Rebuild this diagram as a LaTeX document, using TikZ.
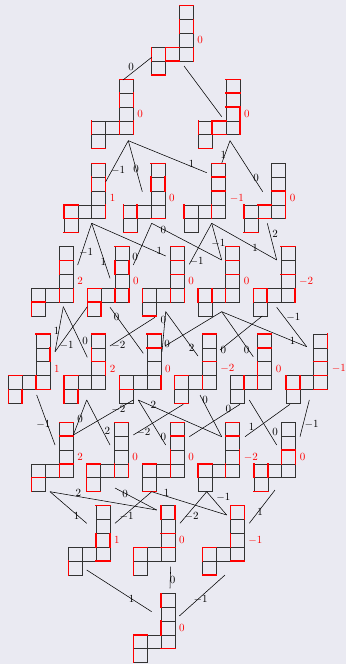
\documentclass[tikz,border=0pt]{standalone}
\usepackage{tikz}
\usetikzlibrary{calc,positioning}
\definecolor{bgcol}{RGB}{234,234,242}
\newcommand{\wtfont}{\fontsize{10.5}{12}\selectfont}

% one tableau: name, north west corner, weight, red horizontals, red verticals
\newcommand{\youngtab}[5]{%
  \node[tabbox] (#1) at (#2) {};
  \node[wt, right=3.5pt of #1] (#1w) {$#3$};
  \begin{scope}[shift={(#1.north west)}, x=13.85pt, y=-13.85pt]
    \foreach \cx/\cy in {2/0,2/1,2/2,0/3,1/3,2/3,0/4}
      \draw[cellline] (\cx,\cy) rectangle ++(1,1);
    \foreach \cx/\cy in {#4}
      \draw[redline] (\cx,\cy) -- ++(1,0);
    \foreach \cx/\cy in {#5}
      \draw[redline] (\cx,\cy) -- ++(0,1);
  \end{scope}
}

% one arrow of the graph: from, port offset, to, port offset, label, label spot
\newcommand{\link}[6]{%
  \draw[edge] ($(#1.north west)+(#2)$) -- ($(#3.north west)+(#4)$);
  \node[lbl] (#1-#3) at (#6) {#5};
}

\begin{document}
\begin{tikzpicture}[x=1pt, y=-1pt,
  tabbox/.style={anchor=north west, minimum width=41.55pt, minimum height=69.25pt, inner sep=0pt, outer sep=0pt},
  cellline/.style={line width=0.7pt, black!80},
  redline/.style={line width=1.4pt, red, line cap=rect},
  wt/.style={text=red, inner sep=0.5pt, font=\wtfont},
  lbl/.style={inner sep=0.5pt, font=\wtfont},
  edge/.style={line width=0.55pt}]
\fill[bgcol] (0,0) rectangle (346,664);
\useasboundingbox (0,0) rectangle (346,664);

% tableaux, row by row
\youngtab{a}{151.7,5.7}{0}{2/0,1/3,1/4,0/5}{2/1,3/1,0/3,1/3,3/3}

\youngtab{b1}{91.7,79.3}{0}{2/0,0/5}{2/1,3/1,0/3,2/3,3/3}
\youngtab{b2}{198.3,79.3}{0}{2/0,2/1,2/2,1/3,1/4,0/5}{3/2,0/3,1/3,3/3}

\youngtab{c1}{64,163.3}{1}{2/0,0/3,0/4,0/5}{2/1,3/1,0/3,3/3}
\youngtab{c2}{123.3,163.3}{0}{2/0,2/4,0/5}{2/1,3/1,0/3,1/3}
\youngtab{c3}{184,163.3}{-1}{2/0,2/1,2/2}{0/3,2/3}
\youngtab{c4}{244,163.3}{0}{2/2,1/3,1/4,0/5}{3/2,0/3,3/3}

\youngtab{d1}{31.7,246.7}{2}{2/1,0/4}{2/1,2/3,3/3,0/4}
\youngtab{d2}{87.3,246.7}{0}{2/0,0/3,0/4}{2/1,3/1,0/3,2/3,3/3,0/4,1/4}
\youngtab{d3}{142.7,246.7}{0}{2/0,2/1,2/2,0/5}{0/3,2/3,3/3}
\youngtab{d4}{198,246.7}{0}{2/0,2/1,2/2}{0/3,1/3,2/3}
\youngtab{d5}{253.3,246.7}{-2}{2/0,2/2,0/3}{0/3,1/3,3/3}

\youngtab{e1}{8.3,334}{1}{2/0,0/3,2/4}{3/1,2/3,0/4,1/4}
\youngtab{e2}{64,334}{2}{2/0,2/2,0/3}{2/1,3/2,0/3,0/4,1/4}
\youngtab{e3}{119.3,334}{0}{2/0,2/1,0/4}{0/3,3/3}
\youngtab{e4}{174.7,334}{-2}{2/0,2/2,0/3,0/5}{0/3,2/3}
\youngtab{e5}{230,334}{0}{2/0,2/1}{2/2,1/3,2/3}
\youngtab{e6}{286,334}{-1}{2/2,2/3,2/4,0/4}{3/0,0/3,1/3}

\youngtab{f1}{31.7,422.3}{2}{2/0,2/1,2/3,0/4}{2/3,0/4}
\youngtab{f2}{86.7,422.3}{0}{2/0,0/3,0/5}{2/3,3/3,0/3,0/4}
\youngtab{f3}{142.7,422.3}{0}{2/0,2/1,0/3,0/5}{2/2,2/3}
\youngtab{f4}{198,422.3}{-2}{2/0,2/1,0/3}{3/2,2/3,0/3}
\youngtab{f5}{254,422.3}{0}{2/2,0/5}{2/2,3/2,0/3,1/3}

\youngtab{g1}{68.3,505.7}{1}{2/0,2/4}{2/2,3/2,0/4}
\youngtab{g2}{133.3,505.7}{0}{2/2,0/3,2/3}{2/0,3/0,0/3,0/4}
\youngtab{g3}{202.7,505.7}{-1}{2/0,0/3,2/4,0/5}{2/0,3/0,2/2,0/3}

\youngtab{h}{133.3,593.3}{0}{2/4,0/3}{2/0,2/2,0/3,0/4}

% arrows
\link{a}{0,51.6}{b1}{31.3,0.7}{$0$}{131,67}
\draw[edge] ($(a.north west)+(32.3,60.3)$) -- ($(b2.north west)+(23.4,37.4)$);

\link{b1}{36.6,61.4}{c1}{41.7,18.4}{$-1$}{118,170}
\link{b1}{36.6,61.4}{c2}{19,28.4}{$0$}{136,169.3}
\link{b1}{36.6,61.4}{c3}{22.7,9.4}{$1$}{191.7,164}
\link{b2}{31.7,61.4}{c3}{37.7,0}{$1$}{223.3,155}
\link{b2}{31.7,61.4}{c4}{18.7,28.4}{$0$}{256,178.3}

\link{c1}{27.7,60}{d1}{46,18.3}{$-1$}{86,252.7}
\link{c1}{27.7,60}{d2}{22.7,31.6}{$1$}{103.3,261.7}
\link{c1}{27.7,60}{d3}{23,9.3}{$1$}{159.3,251}
\link{c2}{28.4,60}{d2}{46,18.3}{$0$}{135,257.3}
\link{c2}{28.4,60}{d4}{23.7,13.3}{$0$}{163.3,230}
\link{c3}{27.7,60}{d3}{46.6,17.6}{$-1$}{196.7,261.7}
\link{c3}{27.7,60}{d4}{23.7,13.3}{$-1$}{218.3,243.3}
\link{c3}{27.7,60}{d5}{23.4,13.3}{$1$}{255,247.7}
\link{c4}{23.3,60}{d5}{23.4,13.3}{$2$}{275,234}

\link{d1}{31.6,60}{e1}{46.7,17.7}{$1$}{56.7,330.5}
\link{d1}{31.6,60}{e2}{23.3,23.3}{$0$}{85,340.7}
\link{d2}{0,60}{e1}{46.7,17.7}{$-1$}{66.7,345}
\link{d2}{22.7,60.6}{e3}{24,19.3}{$0$}{116.7,317.3}
\link{d3}{12.3,70.6}{e2}{46,12}{$-2$}{118.3,345}
\link{d3}{23,65}{e3}{42.7,17.7}{$0$}{163.3,320}
\link{d3}{23,65}{e4}{23.3,22}{$2$}{191.7,348.3}
\link{d4}{23.7,65}{e3}{45.7,12}{$0$}{167,344}
\link{d4}{23.7,65}{e5}{23.3,22.7}{$0$}{246.7,350}
\link{d4}{23.7,65}{e6}{20.7,12.7}{$1$}{292.7,340.7}
\link{d5}{9,69.3}{e4}{45.3,16}{$0$}{223.3,350}
\link{d5}{23.4,60.6}{e6}{20.7,12.7}{$-1$}{293.3,317.3}

\link{e1}{28.4,61}{f1}{23.3,22.7}{$-1$}{43.3,424.3}
\link{e2}{22.7,66}{f1}{41.6,12.7}{$0$}{80,419}
\link{e2}{22.7,66}{f2}{23.3,22.7}{$2$}{107.3,431}
\link{e3}{14,66}{f1}{41.6,12.7}{$-2$}{118.3,409}
\link{e3}{19,66}{f3}{23,22.7}{$0$}{163.3,436.7}
\link{e3}{19,66}{f4}{23.7,14.4}{$2$}{153.3,405}
\link{e4}{8.6,70.3}{f2}{46.6,12.7}{$-2$}{143.3,432.3}
\link{e4}{25.3,61}{f4}{23.7,14.4}{$0$}{205,400}
\link{e5}{10,70.3}{f3}{46.6,14.4}{$0$}{228.3,409}
\link{e5}{19.3,66}{f5}{22.7,22.7}{$0$}{275,431.7}
\link{e6}{4,70.3}{f4}{47,14.4}{$1$}{251.7,426.7}
\link{e6}{23.3,66}{f5}{46,14.4}{$-1$}{311.7,424.3}

\link{f1}{18.3,69.4}{g1}{18.4,17.6}{$1$}{76.7,516}
\link{f1}{18.3,69.4}{g2}{23.4,4.3}{$2$}{78.3,492.7}
\link{f2}{28.3,65.7}{g2}{23.4,4.3}{$0$}{125,494}
\link{f3}{9,69.4}{g1}{46.7,17.6}{$-1$}{126.7,516}
\link{f3}{9,69.4}{g3}{24,9.3}{$1$}{166.7,493.3}
\link{f4}{8.7,69.4}{g2}{46.7,17.6}{$-2$}{191.7,516.7}
\link{f4}{8.7,69.4}{g3}{24,9.3}{$-1$}{223.3,497.3}
\link{f5}{21,67.7}{g3}{46.6,17.6}{$1$}{260,511.7}

\link{g1}{18.4,64.3}{h}{18.4,18.4}{$1$}{131.7,599.3}
\link{g2}{37.4,61}{h}{36.7,-5}{$0$}{172.7,580}
\link{g3}{22.3,69.3}{h}{46,22.7}{$-1$}{200.7,599.3}
\end{tikzpicture}
\end{document}
